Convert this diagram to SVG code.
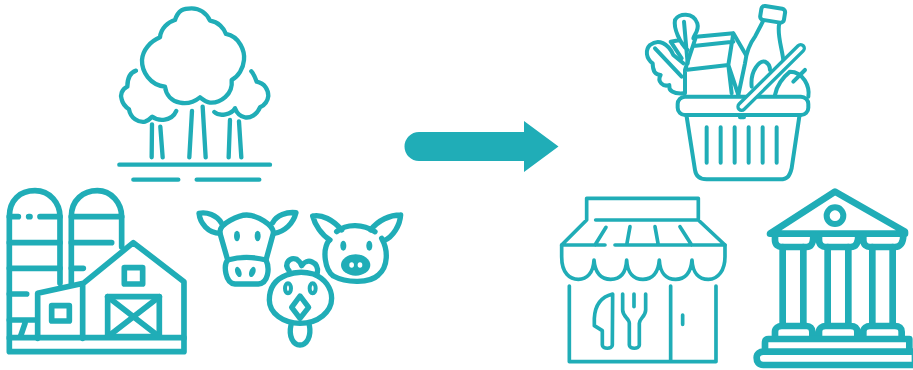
<svg xmlns="http://www.w3.org/2000/svg" width="913" height="370" viewBox="0 0 913 370">
<style>
.i{fill:none;stroke:#20adb7;stroke-linecap:round;stroke-linejoin:round}
.f{fill:#20adb7;stroke:none}
.w{fill:#fff}
</style>
<rect width="913" height="370" fill="#fff"/>
<g id="tree" class="i" stroke-width="13" transform="translate(100,0) scale(.3333)">
<path d="M225 60C235 30 250 25 275 25C300 25 320 40 330 62C355 65 372 85 378 102C420 110 435 155 432 180C430 205 415 230 395 240C400 285 360 310 330 308C318 306 308 298 300 292C280 308 260 312 240 308C215 303 198 285 195 260C150 255 125 215 126 180C128 150 150 125 180 112C182 85 205 65 225 60Z"/>
<path d="M108 212C90 218 82 235 82 260C65 268 60 285 65 298C68 312 78 322 87 328C92 355 115 368 135 365C145 362 152 355 157 350C175 365 215 365 229 333"/>
<path d="M454 214C462 222 466 235 470 245C495 250 505 270 505 288C503 305 495 315 480 322C470 345 450 355 435 352C420 350 410 338 405 325C395 342 360 352 343 336"/>
<path d="M156 373L155 472M181 380L188 472M276 333L268 472M308 320L317 472M390 360L386 472M417 364L424 472M58 494H510M100 539H235M290 539H478"/>
</g>
<g id="farm" class="i" stroke-width="17" transform="translate(0,180) scale(.3333)">
<path d="M28 475V110C28 60 60 32 105 32C150 32 180 70 180 110V310"/>
<path d="M214 310V110C214 60 250 32 292 32C335 32 365 70 365 110V200"/>
<path d="M28 110H55M86 110H90M120 110H180M28 188H180M28 265H180M28 342H80M28 420H110M75 430L62 468M214 110H365M214 188H335M214 265H250"/>
<rect x="28" y="473" width="524" height="42"/>
<path d="M552 475V305L400 188L250 310L113 340V475M248 310V475"/>
<rect x="373" y="263" width="55" height="49"/>
<rect x="155" y="377" width="53" height="46"/>
<rect x="323" y="350" width="155" height="120"/>
<path d="M323 350L478 470M478 350L323 470"/>
</g>
<g id="animals" class="i" stroke-width="16" transform="translate(190,200) scale(.3333)">
<g id="cow">
<path d="M90 100L113 180C100 195 105 250 135 252H205C235 250 240 205 228 180L250 100C252 75 200 45 170 45C150 45 85 70 90 100Z"/>
<path d="M113 180C150 170 190 170 228 180"/>
<path d="M95 70C80 45 50 35 27 40C30 70 55 100 90 100M248 68C260 45 290 35 318 38C310 70 285 95 252 100"/>
<ellipse class="f" cx="141" cy="108" rx="9" ry="16"/><ellipse class="f" cx="203" cy="108" rx="9" ry="16"/>
<ellipse class="f" cx="145" cy="216" rx="9" ry="16" transform="rotate(-20 145 216)"/><ellipse class="f" cx="187" cy="216" rx="9" ry="16" transform="rotate(20 187 216)"/>
</g>
<g id="pig">
<path d="M418 120C395 150 405 210 430 228C470 250 540 250 565 225C595 200 595 150 575 115M440 95C470 70 520 72 555 95"/>
<path d="M368 48C395 42 430 60 455 90M368 48C375 75 395 105 420 120M632 45C600 45 565 60 542 90M632 45C630 75 610 110 582 122"/>
<ellipse class="f" cx="497" cy="195" rx="44" ry="32"/>
<ellipse class="w" stroke="none" cx="485" cy="195" rx="7" ry="8"/><ellipse class="w" stroke="none" cx="510" cy="195" rx="7" ry="8"/>
<ellipse class="f" cx="460" cy="137" rx="9" ry="15"/><ellipse class="f" cx="538" cy="137" rx="9" ry="15"/>
</g>
<g id="chicken">
<path d="M290 225C250 240 238 270 238 300C238 340 280 370 330 370C385 370 425 335 425 295C425 265 405 235 370 222C345 215 315 215 290 225Z"/>
<path d="M297 212C280 190 300 170 320 178C328 183 332 190 335 197C350 172 388 185 382 218"/>
<path d="M330 288L356 322L330 355L305 322Z"/>
<path d="M303 375C295 410 310 435 330 435C350 435 365 410 358 375"/>
<ellipse cx="294" cy="265" rx="9" ry="15" stroke-width="12"/><ellipse cx="368" cy="265" rx="9" ry="15" stroke-width="12"/>
</g>
</g>
<path id="arrow" class="f" d="M419 132H524V121L558.500 146.500L524 172V161H419A14.500 14.500 0 0 1 419 132Z"/>
<g id="basket" class="i" stroke-width="12" transform="translate(640,0) scale(.3333)">
<path d="M130 280C100 282 85 272 88 255C70 262 50 245 62 225C40 225 38 205 38 190C18 175 15 150 30 135C55 115 85 130 100 165L130 190M45 145L125 230"/>
<path d="M132 65L143 190M143 150C120 130 100 85 105 60C115 40 160 35 172 70C178 90 165 100 160 115M120 120L92 125L125 175"/>
<path d="M135 280V210L265 195L275 280M135 210L168 110L280 100L265 195M160 138L280 125M280 100L318 165M265 195L295 285"/>
<path d="M370 62L345 110C330 130 320 150 315 190L295 285M418 70C410 100 425 140 430 180"/>
<rect x="362" y="22" width="72" height="42" rx="10" transform="rotate(9 398 43)" class="w"/>
<path d="M335 260C330 210 360 180 375 185C385 190 390 200 390 210"/>
<path d="M405 285C410 260 425 235 450 215C490 215 510 260 505 290M460 245L495 210"/>
<rect x="113" y="290" width="392" height="55" rx="22" class="w"/>
<path d="M300 352H312M140 350L165 510C168 530 180 538 200 538H420C445 538 450 525 455 505L478 350M200 382V488M242 382V488M284 382V488M326 382V488M368 382V488M410 382V488"/>
<path d="M305 320L482 145" stroke-width="32"/>
<path d="M305 320L482 145" stroke="#fff" stroke-width="12"/>
</g>
<g id="restaurant" class="i" stroke-width="11" transform="translate(550,190) scale(.3333)">
<path d="M110 90V25H445V90M137 90H445M110 90L35 165H165M195 165H525L445 90M168 112L135 165M240 110L230 165M315 110L325 165M390 110L425 165"/>
<path d="M35 165V200C35 250 60 268 85 268C110 268 130 250 132 210C135 250 155 268 182 268C210 268 228 250 230 210C232 250 252 268 279 268C305 268 325 250 328 210C330 250 350 268 377 268C403 268 423 250 426 210C428 250 448 268 475 268C505 268 525 240 525 200V165"/>
<path d="M58 288V515H498V288M362 288V515M398 375V403"/>
<path d="M188 312C155 320 135 345 133 385V407L157 422V465C157 478 187 478 187 465Z"/>
<path d="M218 312V360C218 380 238 385 238 400V465C238 478 268 478 268 465V400C268 385 287 380 287 360V312M252 312V350"/>
</g>
<g id="bank" class="i" stroke-width="20" transform="translate(750,185) scale(.3333)">
<path d="M60 146L255 20L465 140L465 146H60Z"/>
<circle cx="255" cy="92" r="25" stroke-width="18"/>
<path d="M75 150V165C75 180 85 186 95 186H170C185 186 190 175 190 150M207 150V165C207 180 217 186 227 186H302C317 186 325 175 325 150M340 150V165C340 180 350 186 360 186H435C450 186 460 175 460 150"/>
<path d="M98 186V420M160 186V420M233 186V420M295 186V420M367 186V420M428 186V420"/>
<path d="M75 458V440C75 430 85 423 95 423H170C180 423 187 430 187 440V458M207 458V440C207 430 217 423 227 423H302C315 423 322 430 322 440V458M340 458V440C340 430 350 423 360 423H435C448 423 455 430 455 440V458"/>
<path d="M45 498V475C45 465 48 462 55 462H478V498"/>
<path d="M60 500H495V540H40C25 540 20 530 20 518C20 505 30 500 40 500H60Z"/>
</g>
</svg>
